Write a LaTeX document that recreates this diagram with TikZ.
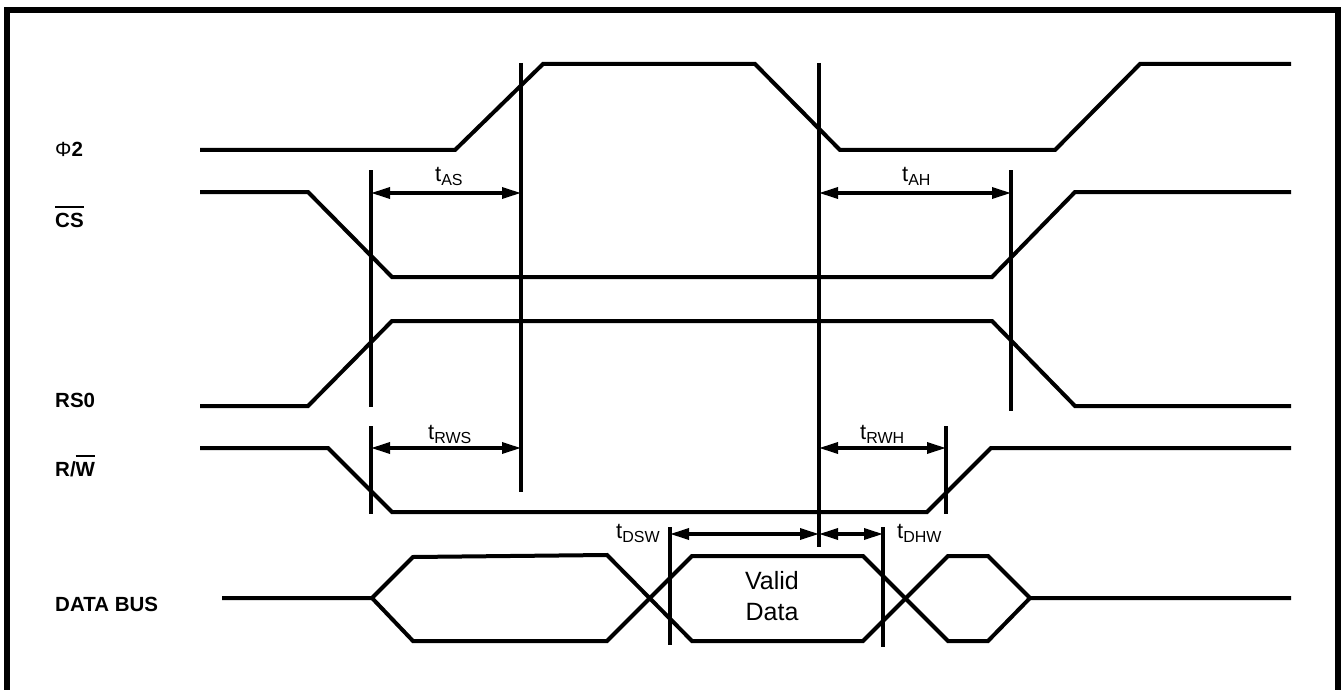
\documentclass[tikz,border=0pt]{standalone}
\usepackage{fontspec}
\setmainfont{Liberation Sans}
\usetikzlibrary{arrows.meta}
\newcommand\myovl[1]{\leavevmode\setbox0\hbox{#1}\rlap{\rule[\dimexpr\ht0+5pt\relax]{\wd0}{2pt}}\box0}
\begin{document}
\begin{tikzpicture}[x=1pt,y=-1pt,
  sig/.style={line width=4pt, line join=miter},
  vline/.style={line width=3.3pt},
  dim/.style={line width=3.3pt, {Triangle[length=19pt,width=11pt]}-{Triangle[length=19pt,width=11pt]}},
  lbl/.style={anchor=base west, inner sep=0pt, font=\fontsize{20.5}{24}\selectfont\bfseries},
  tl/.style={anchor=base west, inner sep=0pt, font=\fontsize{22}{26}\selectfont},
  vd/.style={anchor=base, inner sep=0pt, font=\fontsize{25}{30}\selectfont}]
\useasboundingbox (0,0) rectangle (1344,690);
% frame
\draw[line width=6pt, line join=miter] (7,690) -- (7,10) -- (1337.5,10) -- (1337.5,690);
% labels
\node[lbl] (lphi) at (55,157) {{\mdseries Φ}2};
\node[lbl] (lcs) at (55,227) {\myovl{CS}};
\node[lbl] (lrs) at (55,407) {RS0};
\node[lbl] (lrw) at (55,476) {R/\myovl{W}};
\node[lbl] (ldb) at (55,611) {DATA BUS};
% signals
\draw[sig] (200,150) -- (455,150) -- (543,64) -- (755,64) -- (840,150) -- (1055,150) -- (1140,64) -- (1291,64);
\draw[sig] (200,192) -- (308,192) -- (392,277) -- (992,277) -- (1075,192) -- (1291,192);
\draw[sig] (200,406) -- (308,406) -- (392,321) -- (992,321) -- (1075,406) -- (1291,406);
\draw[sig] (200,448) -- (328,448) -- (392,512) -- (927,512) -- (991,448) -- (1291,448);
\draw[sig] (222,598) -- (372,598) -- (413,557) -- (607,555) -- (692,641) -- (863,641) -- (948,556) -- (988,556) -- (1030,598) -- (1291,598);
\draw[sig] (372,598) -- (413,641) -- (607,641) -- (692,556) -- (863,556) -- (948,641) -- (988,641) -- (1030,598);
% vertical reference lines
\draw[vline] (371,170) -- (371,407);
\draw[vline] (371,426) -- (371,514);
\draw[vline] (521,63) -- (521,492);
\draw[vline] (819,63) -- (819,547);
\draw[vline] (1011,170) -- (1011,411);
\draw[vline] (946,426) -- (946,514);
\draw[vline] (670,527) -- (670,645);
\draw[vline] (883,527) -- (883,647);
% dimension arrows
\coordinate (as1) at (371,193); \coordinate (as2) at (521,193);
\coordinate (ah1) at (819,193); \coordinate (ah2) at (1011,193);
\coordinate (rs1) at (371,448); \coordinate (rs2) at (521,448);
\coordinate (rh1) at (819,448); \coordinate (rh2) at (946,448);
\coordinate (ds1) at (670,534); \coordinate (ds2) at (819,534);
\coordinate (dh1) at (819,534); \coordinate (dh2) at (883,534);
\draw[dim] (as1) -- (as2);
\draw[dim] (ah1) -- (ah2);
\draw[dim] (rs1) -- (rs2);
\draw[dim] (rh1) -- (rh2);
\draw[dim] (ds1) -- (ds2);
\draw[dim] (dh1) -- (dh2);
% timing labels
\node[tl] (tas) at (435,182) {t\raisebox{-4pt}{\fontsize{16}{18}\selectfont AS}};
\node[tl] (tah) at (902,182) {t\raisebox{-4pt}{\fontsize{16}{18}\selectfont AH}};
\node[tl] (trws) at (428,439) {t\raisebox{-4pt}{\fontsize{16}{18}\selectfont RWS}};
\node[tl] (trwh) at (860,439) {t\raisebox{-4pt}{\fontsize{16}{18}\selectfont RWH}};
\node[tl] (tdsw) at (616,538) {t\raisebox{-4pt}{\fontsize{16}{18}\selectfont DSW}};
\node[tl] (tdhw) at (897,538) {t\raisebox{-4pt}{\fontsize{16}{18}\selectfont DHW}};
% valid data
\node[vd] (valid) at (772,589) {Valid};
\node[vd] (data) at (772,620) {Data};
\end{tikzpicture}
\end{document}
